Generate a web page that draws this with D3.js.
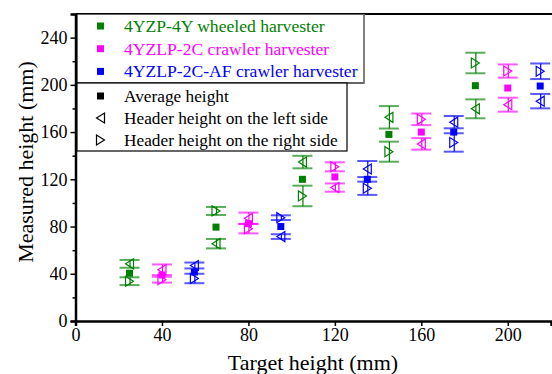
<!DOCTYPE html>
<html>
<head>
<meta charset="utf-8">
<script src="https://cdn.jsdelivr.net/npm/d3@7"></script>
<style>
  body { margin: 0; background: #fff; }
  svg { display: block; }
  text { font-family: "Liberation Serif", "Times New Roman", serif; }
</style>
</head>
<body>
<svg width="552" height="374"></svg>
<script>
// harvester series, x = target height shifted per machine
var seriesNames = ["4YZP-4Y wheeled harvester", "4YZLP-2C crawler harvester", "4YZLP-2C-AF crawler harvester"];
var seriesColors = ["#008000", "#ff00ff", "#0000ff"];
var xTicks = [0, 40, 80, 120, 160, 200];
var yTicks = [0, 40, 80, 120, 160, 200, 240];

var greenX = [25, 65, 105, 145, 185];
var pinkX = [40, 80, 120, 160, 200];
var blueX = [55, 95, 135, 175, 215];

// average height
var greenAvg = [40.5, 79.5, 120, 158, 199.3];
var pinkAvg = [39, 82.5, 122, 160, 197.3];
var blueAvg = [41.5, 80, 120, 160, 199];

// header height left side [mean, sd]
var greenLeft = [[48.4, 3.3], [65.5, 4], [134.6, 5.3], [172.5, 9.5], [179.7, 8]];
var pinkLeft = [[43.4, 4.5], [87, 4.8], [113, 3.5], [150, 4.9], [183.2, 5.9]];
var blueLeft = [[47, 2.5], [71.5, 2], [128.7, 6.8], [168.4, 5.2], [186.2, 6.1]];

// header height right side [mean, sd]
var greenRight = [[33.7, 3.3], [93.2, 3.4], [105.9, 8.7], [143.4, 8.5], [218.5, 8.7]];
var pinkRight = [[35, 2.5], [78.2, 4], [130.6, 3.8], [170.8, 4.9], [211.7, 5.6]];
var blueRight = [[36, 4], [87.5, 2], [112.4, 5.6], [151.2, 7.8], [211.5, 6.6]];

var series = [
  {name: seriesNames[0], color: seriesColors[0], x: greenX, avg: greenAvg, left: greenLeft, right: greenRight},
  {name: seriesNames[1], color: seriesColors[1], x: pinkX, avg: pinkAvg, left: pinkLeft, right: pinkRight},
  {name: seriesNames[2], color: seriesColors[2], x: blueX, avg: blueAvg, left: blueLeft, right: blueRight}
];

var svg = d3.select("svg");

var x = d3.scaleLinear().domain([0, 220]).range([75.5, 551]);
var y = d3.scaleLinear().domain([0, 260]).range([321, 14]);

var g = svg.append("g");

// triangle paths
function triLeft(cx, cy) {
  return "M" + (cx - 4) + "," + cy + "L" + (cx + 4) + "," + (cy - 5) + "L" + (cx + 4) + "," + (cy + 5) + "Z";
}
function triRight(cx, cy) {
  return "M" + (cx + 4) + "," + cy + "L" + (cx - 4) + "," + (cy - 5) + "L" + (cx - 4) + "," + (cy + 5) + "Z";
}

series.forEach(function(s) {
  var sg = g.append("g").attr("class", "series");
  var pts = [];
  s.x.forEach(function(xv, i) {
    pts.push({x: xv, v: s.left[i][0], sd: s.left[i][1], side: "left"});
    pts.push({x: xv, v: s.right[i][0], sd: s.right[i][1], side: "right"});
  });

  // error bars
  sg.selectAll(".stem").data(pts).enter().append("line")
    .attr("x1", function(d) { return x(d.x) + 0.5; })
    .attr("x2", function(d) { return x(d.x) + 0.5; })
    .attr("y1", function(d) { return y(d.v + d.sd); })
    .attr("y2", function(d) { return y(d.v - d.sd); })
    .attr("stroke", s.color)
    .attr("stroke-width", 1.2);

  var caps = [];
  pts.forEach(function(d) { caps.push({x: d.x, v: d.v + d.sd}); caps.push({x: d.x, v: d.v - d.sd}); });
  sg.selectAll(".cap").data(caps).enter().append("line")
    .attr("x1", function(d) { return x(d.x) - 10; })
    .attr("x2", function(d) { return x(d.x) + 10; })
    .attr("y1", function(d) { return y(d.v); })
    .attr("y2", function(d) { return y(d.v); })
    .attr("stroke", s.color)
    .attr("stroke-opacity", 0.65)
    .attr("stroke-width", 2);

  sg.selectAll(".tri").data(pts).enter().append("path")
    .attr("d", function(d) {
      return d.side == "left" ? triLeft(x(d.x), y(d.v)) : triRight(x(d.x), y(d.v));
    })
    .attr("fill", "none")
    .attr("stroke", s.color)
    .attr("stroke-width", 1.2);

  sg.selectAll(".avg").data(s.x).enter().append("rect")
    .attr("x", function(d) { return x(d) - 3.5; })
    .attr("y", function(d, i) { return y(s.avg[i]) - 3.5; })
    .attr("width", 7)
    .attr("height", 7)
    .attr("fill", s.color);
});

// axes
var yAxis = g.append("g")
  .attr("transform", "translate(" + x(0) + ",0)")
  .call(d3.axisLeft(y).tickValues(yTicks).tickSize(5).tickPadding(3).tickFormat(d3.format("d")));
g.append("g")
  .attr("transform", "translate(" + x(0) + ",0)")
  .call(d3.axisLeft(y).tickValues([20, 60, 100, 140, 180, 220, 260]).tickSize(3).tickFormat(""))
  .select(".domain").remove();

var xAxis = g.append("g")
  .attr("transform", "translate(0," + y(0) + ")")
  .call(d3.axisBottom(x).tickValues(xTicks).tickSize(5).tickPadding(2).tickFormat(d3.format("d")));

[xAxis, yAxis].forEach(function(a) {
  a.select(".domain").attr("stroke-width", 2.5);
  a.selectAll("text").attr("font-size", 18).attr("fill", "#000")
    .attr("font-family", "Liberation Serif");
});
g.selectAll(".tick line").attr("stroke-width", 1.5);

// top frame
g.append("line")
  .attr("x1", x(0)).attr("x2", 552)
  .attr("y1", y(260)).attr("y2", y(260))
  .attr("stroke", "#000").attr("stroke-width", 2);

// axis titles
svg.append("text")
  .attr("x", 313).attr("y", 370)
  .attr("text-anchor", "middle")
  .attr("font-size", 22)
  .text("Target height (mm)");
svg.append("text")
  .attr("transform", "translate(33,162) rotate(-90)")
  .attr("text-anchor", "middle")
  .attr("font-size", 22)
  .text("Measured height (mm)");

// legend: machines
var leg1 = svg.append("g");
leg1.append("rect")
  .attr("x", 77).attr("y", 14).attr("width", 287).attr("height", 69)
  .attr("fill", "#fff").attr("stroke", "#000").attr("stroke-width", 1.2);
leg1.append("line")
  .attr("x1", 364).attr("x2", 364).attr("y1", 14).attr("y2", 83)
  .attr("stroke", "#888").attr("stroke-width", 1.5);
series.forEach(function(s, i) {
  var ly = 26 + i * 22.7;
  leg1.append("rect")
    .attr("x", 97).attr("y", ly - 3.5).attr("width", 7).attr("height", 7)
    .attr("fill", s.color);
  leg1.append("text")
    .attr("x", 124).attr("y", ly).attr("dy", "0.33em")
    .attr("font-size", 17.6).attr("fill", s.color)
    .text(s.name);
});

// legend: marker types
var markerNames = ["Average height", "Header height on the left side", "Header height on the right side"];
var leg2 = svg.append("g");
leg2.append("rect")
  .attr("x", 77).attr("y", 83).attr("width", 270).attr("height", 68)
  .attr("fill", "#fff").attr("stroke", "#000").attr("stroke-width", 1.2);
markerNames.forEach(function(m, i) {
  var ly = 96 + i * 22;
  if (i == 0) {
    leg2.append("rect").attr("x", 97).attr("y", ly - 3.5).attr("width", 7).attr("height", 7).attr("fill", "#000");
  } else {
    leg2.append("path")
      .attr("d", i == 1 ? triLeft(100.5, ly) : triRight(100.5, ly))
      .attr("fill", "none").attr("stroke", "#000").attr("stroke-width", 1.2);
  }
  leg2.append("text")
    .attr("x", 124).attr("y", ly).attr("dy", "0.33em")
    .attr("font-size", 17.3).attr("fill", "#000")
    .text(m);
});
</script>
</body>
</html>
